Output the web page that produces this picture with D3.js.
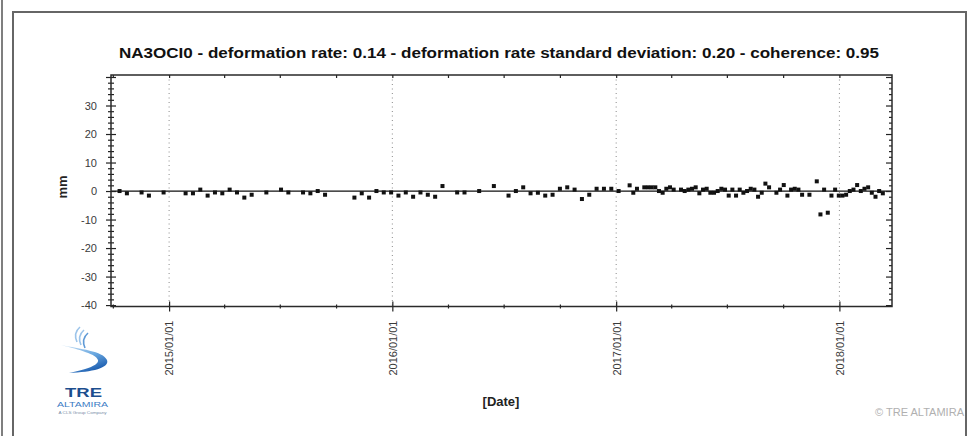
<!DOCTYPE html>
<html>
<head>
<meta charset="utf-8">
<script src="https://cdn.jsdelivr.net/npm/d3@7"></script>
<style>
  html, body { margin: 0; padding: 0; background: #fff; }
  svg { display: block; font-family: "Liberation Sans", Arial, sans-serif; }
</style>
</head>
<body>
<svg id="chart" width="970" height="436"></svg>
<script>
// Measurement point NA3OCI0: displacement time series (mm)
const titleText = "NA3OCI0 - deformation rate: 0.14 - deformation rate standard deviation: 0.20 - coherence: 0.95";

const dates = [
  "2014-10-12","2014-10-24","2014-11-17","2014-11-29","2014-12-23",
  "2015-01-28","2015-02-09","2015-02-21","2015-03-05","2015-03-17",
  "2015-03-29","2015-04-10","2015-04-22","2015-05-04","2015-05-16",
  "2015-06-09","2015-07-03","2015-07-15","2015-08-08","2015-08-20",
  "2015-09-01","2015-09-13","2015-10-31","2015-11-12","2015-11-24",
  "2015-12-06","2015-12-18","2015-12-30","2016-01-11","2016-01-23",
  "2016-02-04","2016-02-16","2016-02-28","2016-03-11","2016-03-23",
  "2016-04-16","2016-04-28","2016-05-22","2016-06-15","2016-07-09",
  "2016-07-21","2016-08-02","2016-08-14","2016-08-26","2016-09-07",
  "2016-09-19","2016-10-01","2016-10-13","2016-10-25","2016-11-06",
  "2016-11-18","2016-11-30","2016-12-12","2016-12-24","2017-01-05",
  "2017-01-23","2017-01-29","2017-02-04","2017-02-16","2017-02-22",
  "2017-02-28","2017-03-06","2017-03-12","2017-03-18","2017-03-24",
  "2017-03-30","2017-04-05","2017-04-17","2017-04-23","2017-04-29",
  "2017-05-05","2017-05-11","2017-05-17","2017-05-23","2017-05-29",
  "2017-06-04","2017-06-10","2017-06-16","2017-06-22","2017-06-28",
  "2017-07-04","2017-07-10","2017-07-16","2017-07-22","2017-07-28",
  "2017-08-03","2017-08-09","2017-08-15","2017-08-21","2017-08-27",
  "2017-09-02","2017-09-08","2017-09-20","2017-09-26","2017-10-02",
  "2017-10-08","2017-10-14","2017-10-20","2017-10-26","2017-11-01",
  "2017-11-13","2017-11-25","2017-12-01","2017-12-07","2017-12-13",
  "2017-12-19","2017-12-25","2017-12-31","2018-01-06","2018-01-12",
  "2018-01-18","2018-01-24","2018-01-30","2018-02-05","2018-02-11",
  "2018-02-17","2018-02-23","2018-03-01","2018-03-07","2018-03-13"
];

const values = [
   0.0, -0.8, -0.5, -1.6, -0.5,
  -0.8, -0.8,  0.5, -1.6, -0.5,
  -0.8,  0.5, -0.5, -2.3, -1.3,
  -0.5,  0.5, -0.5, -0.5, -0.8,
   0.0, -1.3, -2.3, -0.8, -2.3,
   0.0, -0.5, -0.5, -1.6, -0.5,
  -2.0, -0.5, -1.3, -2.0,  1.75,
  -0.5, -0.5,  0.0,  1.75, -1.6,
   0.0,  1.3, -0.8, -0.6, -1.6,
  -1.3,  0.8,  1.3,  0.5, -2.8,
  -1.3,  0.8,  0.8,  0.8,  0.0,
   2.0, -0.6,  0.8,  1.3,  1.3,
   1.3,  1.3,  0.0, -0.6,  0.8,
   1.3,  0.5,  0.5,  0.0,  0.5,
   0.8,  1.3, -0.8,  0.5,  0.8,
  -0.6, -0.6,  0.0,  0.8,  0.5,
  -1.6,  0.5, -1.6,  0.5, -0.6,
   0.0,  0.8,  0.5, -2.0, -0.6,
   2.6,  1.3, -0.6,  0.5,  2.1,
  -1.6,  0.5,  0.8,  0.5, -1.3,
  -1.3,  3.4, -8.2,  0.5, -7.6,
  -1.6,  0.5, -1.6, -1.6, -1.3,
   0.0,  0.5,  2.1,  0.0,  0.8,
   1.3, -0.6, -2.0,  0.0, -0.8
];

const yearTicks = ["2015-01-01", "2016-01-01", "2017-01-01", "2018-01-01"];
const yTickLabels = [-40, -30, -20, -10, 0, 10, 20, 30];
const xDomain = ["2014-09-28", "2018-03-28"];
const yDomain = [-40.5, 40.7];

const parse = d3.utcParse("%Y-%m-%d");
const fmt = d3.utcFormat("%Y/%m/%d");

const plot = { left: 111, right: 892, top: 75, bottom: 306.5 };

const svg = d3.select("#chart");
svg.append("rect").attr("width", 970).attr("height", 436).attr("fill", "#fff");

// page frame
svg.append("line").attr("x1", 2).attr("x2", 2).attr("y1", 0).attr("y2", 436)
  .attr("stroke", "#555").attr("stroke-width", 1.5);
svg.append("rect").attr("x", 13).attr("y", 12).attr("width", 953).attr("height", 440)
  .attr("fill", "none").attr("stroke", "#666").attr("stroke-width", 2);

const x = d3.scaleUtc().domain(xDomain.map(parse)).range([plot.left, plot.right]);
const y = d3.scaleLinear().domain(yDomain).range([plot.bottom, plot.top]);

const yearDates = yearTicks.map(parse);
const quarterDates = d3.utcMonth.every(3).range(x.domain()[0], x.domain()[1])
  .filter(d => d.getUTCMonth() !== 0);
const minorY = d3.range(-40, 41, 2).filter(v => v % 10 !== 0);
const majorY = d3.range(-40, 41, 10);

// title
svg.append("text")
  .attr("x", 499).attr("y", 58)
  .attr("text-anchor", "middle")
  .attr("font-size", 14.5).attr("font-weight", "bold").attr("fill", "#111")
  .attr("textLength", 760).attr("lengthAdjust", "spacingAndGlyphs")
  .text(titleText);

// yearly dotted grid
svg.append("g").selectAll("line").data(yearDates).join("line")
  .attr("x1", d => x(d)).attr("x2", d => x(d))
  .attr("y1", plot.top).attr("y2", plot.bottom)
  .attr("stroke", "#8a8a8a").attr("stroke-width", 1)
  .attr("stroke-dasharray", "1,3.5");

// zero reference line
svg.append("line")
  .attr("x1", plot.left).attr("x2", plot.right)
  .attr("y1", y(0)).attr("y2", y(0))
  .attr("stroke", "#111").attr("stroke-width", 1.3);

function styleAxis(g) {
  g.select(".domain").remove();
  g.selectAll(".tick line").attr("stroke", "#222").attr("stroke-width", 1.2);
  g.selectAll("text").attr("fill", "#3a3a3a").attr("font-size", 11)
    .attr("font-family", "'Liberation Sans', Arial, sans-serif");
}

// left axis: ticks crossing the axis line
svg.append("g").attr("transform", `translate(${plot.left},0)`)
  .call(d3.axisLeft(y).tickValues(minorY).tickSize(3).tickSizeOuter(0).tickFormat(""))
  .call(styleAxis);
svg.append("g").attr("transform", `translate(${plot.left},0)`)
  .call(d3.axisRight(y).tickValues(minorY).tickSize(3).tickSizeOuter(0).tickFormat(""))
  .call(styleAxis);
svg.append("g").attr("transform", `translate(${plot.left},0)`)
  .call(d3.axisRight(y).tickValues(majorY).tickSize(5).tickSizeOuter(0).tickFormat(""))
  .call(styleAxis);
svg.append("g").attr("transform", `translate(${plot.left},0)`)
  .call(d3.axisLeft(y).tickValues(majorY).tickSize(5).tickSizeOuter(0).tickPadding(9)
    .tickFormat(d => yTickLabels.includes(d) ? d : ""))
  .call(styleAxis);

// right axis: inward ticks only
svg.append("g").attr("transform", `translate(${plot.right},0)`)
  .call(d3.axisLeft(y).tickValues(minorY).tickSize(3).tickSizeOuter(0).tickFormat(""))
  .call(styleAxis);
svg.append("g").attr("transform", `translate(${plot.right},0)`)
  .call(d3.axisLeft(y).tickValues(majorY).tickSize(6).tickSizeOuter(0).tickFormat(""))
  .call(styleAxis);

// top axis: inward quarter ticks
svg.append("g").attr("transform", `translate(0,${plot.top})`)
  .call(d3.axisBottom(x).tickValues(quarterDates.concat(yearDates)).tickSize(3).tickSizeOuter(0).tickFormat(""))
  .call(styleAxis);

// bottom axis: year ticks crossing, quarter ticks small
svg.append("g").attr("transform", `translate(0,${plot.bottom})`)
  .call(d3.axisTop(x).tickValues(quarterDates).tickSize(2).tickSizeOuter(0).tickFormat(""))
  .call(styleAxis);
svg.append("g").attr("transform", `translate(0,${plot.bottom})`)
  .call(d3.axisBottom(x).tickValues(quarterDates).tickSize(2).tickSizeOuter(0).tickFormat(""))
  .call(styleAxis);
svg.append("g").attr("transform", `translate(0,${plot.bottom})`)
  .call(d3.axisTop(x).tickValues(yearDates).tickSize(5).tickSizeOuter(0).tickFormat(""))
  .call(styleAxis);
svg.append("g").attr("transform", `translate(0,${plot.bottom})`)
  .call(d3.axisBottom(x).tickValues(yearDates).tickSize(5).tickSizeOuter(0).tickFormat(fmt))
  .call(styleAxis)
  .call(g => g.selectAll(".tick text")
    .attr("transform", "rotate(-90)")
    .attr("text-anchor", "end")
    .attr("x", -14).attr("y", 0).attr("dy", "0.35em"));

// plot frame
svg.append("rect")
  .attr("x", plot.left).attr("y", plot.top)
  .attr("width", plot.right - plot.left).attr("height", plot.bottom - plot.top)
  .attr("fill", "none").attr("stroke", "#2a2a2a").attr("stroke-width", 1.5);

// measurements
const s = 4;
svg.append("g").selectAll("rect").data(dates.map((d, i) => ({ d: parse(d), v: values[i] })))
  .join("rect")
  .attr("x", p => x(p.d) - s / 2).attr("y", p => y(p.v) - s / 2)
  .attr("width", s).attr("height", s)
  .attr("fill", "#111");

// axis titles
svg.append("text")
  .attr("transform", "translate(67,187) rotate(-90)")
  .attr("text-anchor", "middle")
  .attr("font-size", 13).attr("font-weight", "bold").attr("fill", "#222")
  .text("mm");
svg.append("text")
  .attr("x", 501).attr("y", 406)
  .attr("text-anchor", "middle")
  .attr("font-size", 13).attr("font-weight", "bold").attr("fill", "#222")
  .text("[Date]");

// company mark
const logo = svg.append("g");
const defs = svg.append("defs");
const grad = defs.append("linearGradient").attr("id", "swoosh")
  .attr("x1", "0").attr("y1", "0").attr("x2", "0.6").attr("y2", "1");
grad.append("stop").attr("offset", "0").attr("stop-color", "#cfe4f6");
grad.append("stop").attr("offset", "0.55").attr("stop-color", "#6aa8e0");
grad.append("stop").attr("offset", "1").attr("stop-color", "#1d5eb0");
logo.append("path")
  .attr("d", "M61,345 C80,349 103,351 107,360 C110,368 92,372 69,373 C88,369 99,365 98,360 C96,354 80,350 61,345 Z")
  .attr("fill", "url(#swoosh)");
[[0, 0], [4, 3], [8, 6]].forEach(([dx, dy], i) => {
  logo.append("path")
    .attr("d", `M${80 + dx},${327 + dy} Q${73 + dx},${333 + dy} ${77 + dx},${342 + dy}`)
    .attr("fill", "none").attr("stroke", i === 2 ? "#5f9ad6" : "#9cc4ea").attr("stroke-width", 1.6);
});
logo.append("text").attr("x", 83.5).attr("y", 397).attr("text-anchor", "middle")
  .attr("font-size", 13).attr("font-weight", "bold").attr("fill", "#1c4e8e")
  .attr("textLength", 37).attr("lengthAdjust", "spacingAndGlyphs").text("TRE");
logo.append("text").attr("x", 82.5).attr("y", 406.5).attr("text-anchor", "middle")
  .attr("font-size", 7).attr("fill", "#3b7cc4")
  .attr("textLength", 51).attr("lengthAdjust", "spacingAndGlyphs").text("ALTAMIRA");
logo.append("text").attr("x", 82.5).attr("y", 414).attr("text-anchor", "middle")
  .attr("font-size", 3.5).attr("fill", "#7a8ea8")
  .attr("textLength", 48).attr("lengthAdjust", "spacingAndGlyphs").text("A CLS Group Company");

svg.append("text")
  .attr("x", 964).attr("y", 416).attr("text-anchor", "end")
  .attr("font-size", 10.5).attr("fill", "#b0b0b0")
  .attr("textLength", 89).attr("lengthAdjust", "spacingAndGlyphs")
  .text("© TRE ALTAMIRA");
</script>
</body>
</html>
